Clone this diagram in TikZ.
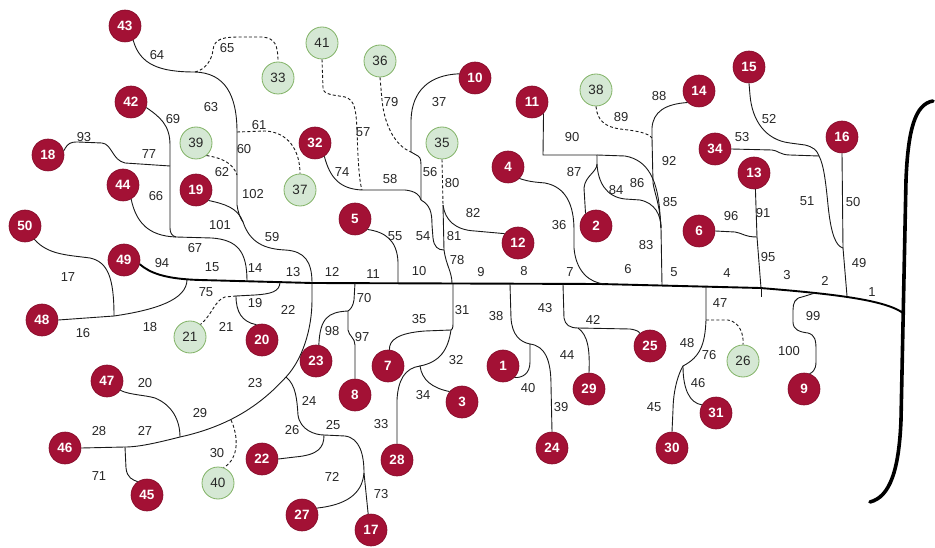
\documentclass[tikz,border=0pt]{standalone}
\usepackage{fontspec}
\setmainfont{Liberation Sans}
\definecolor{crim}{RGB}{163,17,53}
\definecolor{crimd}{RGB}{130,10,40}
\definecolor{gfill}{RGB}{213,232,212}
\definecolor{gdraw}{RGB}{130,179,102}
\definecolor{labc}{RGB}{40,40,40}
\begin{document}
\begin{tikzpicture}[x=1pt,y=-1pt,
  rn/.style={circle,fill=crim,draw=crimd,line width=0.6pt,minimum size=32pt,inner sep=0pt,text=white,font=\fontsize{13.5}{15}\selectfont\bfseries},
  gn/.style={circle,fill=gfill,draw=gdraw,line width=0.8pt,minimum size=32pt,inner sep=0pt,text=black!85,font=\fontsize{13.5}{15}\selectfont},
  lab/.style={inner sep=0pt,text=labc,font=\fontsize{13}{15}\selectfont},
  ln/.style={draw=black!90,line width=0.9pt},
  dl/.style={ln,dash pattern=on 3pt off 2.2pt},
  trunk/.style={draw=black,line width=1.9pt},
  brk/.style={draw=black,line width=3.6pt,line cap=round}]
\fill[white] (0,0) rectangle (935,548);
\useasboundingbox (0,0) rectangle (935,548);

% nodes
\foreach \n/\x/\y in {43/125/26, 42/131/102, 18/48/155, 44/123/185, 50/25/226, 49/124/260, 48/42/320, 19/196/190, 32/315/143, 10/475/78, 5/355/219, 4/508/167, 12/518/243, 11/532/102, 2/596/226, 14/699/91, 15/749/67, 34/715/149, 16/842/137, 13/754/173, 6/699/231, 20/262/340, 47/107/381, 46/65/448, 45/147/495, 22/262/459, 23/316/361, 8/355/395, 7/388/366, 3/462/402, 28/397/460, 27/302/515, 17/371/530, 1/503/366, 24/552/448, 29/589/389, 25/650/346, 30/672/448, 31/716/413, 9/804/389}
  \node[rn] (n\n) at (\x,\y) {\n};
\foreach \n/\x/\y in {39/196/143, 33/278/78, 41/322/43, 36/380/61, 37/300/190, 35/442/143, 38/596/90, 21/190/337, 40/218/483, 26/743/361}
  \node[gn] (n\n) at (\x,\y) {\n};

% trunk junctions
\coordinate (tA) at (247,281);
\coordinate (tB) at (312,283);
\coordinate (tC) at (398,283);
\coordinate (tD) at (452,283.5);
\coordinate (tE) at (605,284);
\coordinate (tF) at (662,285);
\coordinate (tG) at (761,288);
\coordinate (tH) at (847,296);
\coordinate (tb1) at (187,279.5);
\coordinate (tb2) at (280,282);
\coordinate (tb3) at (355,283);
\coordinate (tb4) at (453,284);
\coordinate (tb5) at (510,284);
\coordinate (tb6) at (563,284);
\coordinate (tb7) at (706,286);
\coordinate (tb8) at (815,293);

\draw[trunk] (n49.-15) .. controls (150,273) and (165,279) .. (200,280) -- (312,283) -- (600,284) -- (760,288) .. controls (835,294) and (885,300) .. (903,313);
\draw[brk] (933,101) .. controls (915,104) and (908,130) .. (906,180) -- (901,420) .. controls (899,470) and (890,497) .. (870,502);

% left lower
\coordinate (j48) at (114,316);
\draw[ln] (n50.-55) .. controls (48,255) and (68,255) .. (90,258) .. controls (108,262) and (114,278) .. (j48);
\draw[ln] (n48.east) -- (j48) .. controls (155,310) and (187,300) .. (tb1);

% 18 / 42 / 44
\coordinate (j77) at (170,166);
\coordinate (j67) at (176,237);
\draw[ln] (n18.15) .. controls (68,143) and (70,142) .. (78,142) -- (102,143) .. controls (112,144) and (112,160) .. (125,163) -- (j77);
\draw[ln] (n42.-20) .. controls (160,117) and (170,125) .. (170,145) -- (170,228) .. controls (170,233) and (172,236) .. (j67);
\draw[ln] (n44.-60) .. controls (136,222) and (148,236) .. (j67);
\draw[ln] (j67) -- (212,238) .. controls (238,240) and (247,252) .. (tA);

% 43 branch
\coordinate (j64) at (195,72);
\coordinate (j61) at (237,132);
\coordinate (j62) at (237,175);
\coordinate (j101) at (243,222);
\draw[ln] (n43.-60) .. controls (140,65) and (160,72) .. (j64);
\draw[ln] (j64) .. controls (225,73) and (237,95) .. (j61) -- (j62) -- (237,205) .. controls (238,212) and (240,218) .. (j101) .. controls (250,243) and (265,249) .. (285,250) .. controls (305,251) and (312,262) .. (tB);
\draw[dl] (j64) .. controls (205,70) and (212,60) .. (213,50) .. controls (214,38) and (225,37) .. (240,37) -- (262,37) .. controls (275,38) and (278,45) .. (n33.north);
\draw[dl] (j61) -- (265,131) .. controls (288,132) and (300,150) .. (n37.north);
\draw[dl] (n39.-50) .. controls (222,158) and (233,163) .. (j62);
\draw[ln] (n19.-40) .. controls (225,204) and (238,208) .. (j101);

% big lower branch
\coordinate (j24) at (286,377);
\coordinate (j30) at (231,420);
\coordinate (j20) at (180,437);
\coordinate (j45) at (125,447);
\draw[ln] (tB) -- (312,300) .. controls (312,330) and (302,360) .. (j24) .. controls (265,400) and (235,425) .. (j20) .. controls (160,442) and (140,447) .. (j45) -- (n46.east);
\draw[ln] (n47.-35) .. controls (130,395) and (145,395) .. (155,398) .. controls (172,405) and (180,420) .. (j20);
\draw[ln] (j45) -- (126,468) .. controls (127,478) and (133,480) .. (n45.125);
\draw[dl] (j30) .. controls (238,435) and (240,458) .. (n40.70);

\coordinate (j25) at (324,435);
\coordinate (j72) at (364,473);
\draw[ln] (j24) .. controls (296,385) and (297,400) .. (298,415) .. controls (300,430) and (315,435) .. (j25) -- (345,436) .. controls (360,438) and (364,455) .. (j72) -- (n17.100);
\draw[ln] (n22.east) -- (295,457) .. controls (318,455) and (324,448) .. (j25);
\draw[ln] (n27.25) .. controls (345,505) and (362,495) .. (j72);

% 75 / 19 / 21
\coordinate (j21) at (236,296);
\draw[ln] (tb2) .. controls (280,292) and (270,294) .. (255,295) -- (j21) .. controls (236,312) and (242,322) .. (n20.110);
\draw[dl] (j21) -- (225,297) .. controls (215,300) and (212,315) .. (n21.50);

% 70
\coordinate (j70) at (348,311);
\draw[ln] (tb3) -- (354,300) .. controls (353,306) and (351,309) .. (j70) .. controls (328,312) and (320,318) .. (n23.80);
\draw[ln] (j70) -- (348,330) .. controls (349,336) and (355,338) .. (355,345) -- (n8.north);

% 31
\coordinate (j31) at (451,330);
\coordinate (j34) at (420,366);
\draw[ln] (tb4) -- (453,324) .. controls (453,328) and (452,330) .. (j31) -- (425,331) .. controls (398,333) and (389,340) .. (n7.85);
\draw[ln] (j31) .. controls (448,350) and (440,362) .. (j34) .. controls (422,380) and (432,388) .. (n3.140);
\draw[ln] (j34) .. controls (405,368) and (398,380) .. (397,400) -- (n28.north);

% 38
\coordinate (j38) at (530,344);
\draw[ln] (tb5) -- (511,318) .. controls (512,335) and (520,342) .. (j38) -- (530,362) .. controls (530,374) and (522,378) .. (n1.-45);
\draw[ln] (j38) .. controls (545,346) and (551,360) .. (551,385) -- (n24.north);

% 43 below
\coordinate (j43) at (578,328);
\draw[ln] (tb6) -- (564,318) .. controls (565,325) and (570,328) .. (j43) -- (630,329) .. controls (637,330) and (640,332) .. (n25.130);
\draw[ln] (j43) .. controls (588,335) and (590,350) .. (n29.north);

% 47
\coordinate (j47) at (706,320);
\coordinate (j46) at (683,366);
\draw[ln] (tb7) -- (j47) .. controls (705,345) and (700,357) .. (j46) .. controls (675,380) and (673,400) .. (673,410) -- (n30.north);
\draw[ln] (j46) .. controls (683,390) and (690,403) .. (n31.150);
\draw[dl] (j47) -- (728,320) .. controls (740,322) and (744,335) .. (n26.north);

% 99
\draw[ln] (tb8) -- (802,297) .. controls (795,298) and (793,303) .. (793,310) -- (793,322) .. controls (793,330) and (800,332) .. (808,333) .. controls (815,335) and (816,340) .. (816,350) -- (816,362) .. controls (816,370) and (812,373) .. (n9.70);
\draw[ln] (tG) -- (761,297);

% 13 / 6
\coordinate (j95) at (757,237);
\draw[ln] (n13.-85) -- (j95) -- (tG);
\draw[ln] (n6.east) -- (735,232) .. controls (742,233) and (745,237) .. (j95);

% 15 / 34 / 16
\coordinate (j53) at (819,156);
\coordinate (j50) at (843,248);
\draw[ln] (n15.south) -- (750,95) .. controls (752,120) and (765,140) .. (790,143) -- (805,145) .. controls (813,147) and (817,150) .. (j53) .. controls (824,165) and (826,185) .. (828,205) .. controls (831,235) and (836,246) .. (j50) -- (tH);
\draw[ln] (n34.east) -- (772,150) .. controls (777,150) and (780,155) .. (790,155) -- (j53);
\draw[ln] (n16.south) -- (j50);

% 14 / 11 / 2
\coordinate (j89) at (652,138);
\coordinate (j83) at (661,228);
\coordinate (j90) at (597,155);
\coordinate (j84) at (597,164);
\draw[ln] (n14.225) .. controls (665,104) and (653,112) .. (652,128) -- (j89) -- (653,183) .. controls (655,195) and (660,205) .. (j83) -- (tF);
\draw[dl] (n38.south) .. controls (597,120) and (605,127) .. (620,129) .. controls (638,131) and (648,133) .. (j89);
\draw[ln] (n11.-45) -- (543,155) -- (j90) -- (j84) .. controls (597,172) and (585,176) .. (584,188) -- (n2.130);
\draw[ln] (j84) .. controls (598,182) and (606,197) .. (625,199) -- (640,200) .. controls (655,203) and (661,215) .. (j83);
\draw[ln] (j90) -- (625,156) .. controls (648,160) and (658,180) .. (660,215) -- (j83);

% 4 / 36
\draw[ln] (n4.-45) .. controls (530,182) and (535,182) .. (545,183) .. controls (566,187) and (574,205) .. (574,230) -- (574,248) .. controls (576,272) and (590,283) .. (tE);

% 5 / 55
\draw[ln] (n5.-40) .. controls (385,232) and (397,240) .. (398,262) -- (tC);

% 78 group
\coordinate (j80) at (443,205);
\coordinate (j54) at (444,250);
\coordinate (j56) at (421,200);
\coordinate (j57) at (362,190);
\coordinate (j79) at (411,152);
\draw[ln] (j80) -- (j54) .. controls (446,265) and (452,272) .. (tD);
\draw[ln] (j56) .. controls (430,205) and (432,212) .. (432,225) -- (433,238) .. controls (434,247) and (438,250) .. (j54);
\draw[ln] (n32.-55) .. controls (330,178) and (340,189) .. (j57) -- (405,190) .. controls (415,191) and (420,195) .. (j56);
\draw[dl] (n41.south) -- (323,88) .. controls (323,95) and (335,95) .. (345,97) .. controls (355,100) and (356,110) .. (357,130) .. controls (358,160) and (359,180) .. (j57);
\draw[ln] (n10.165) .. controls (430,75) and (412,90) .. (411,120) -- (j79) -- (418,156) .. controls (421,158) and (421,160) .. (421,170) -- (j56);
\draw[dl] (n36.south) -- (382,100) .. controls (385,130) and (398,147) .. (j79);
\draw[dl] (n35.south) -- (j80);
\draw[ln] (j80) .. controls (445,220) and (455,230) .. (475,231) -- (n12.145);

% edge labels
\foreach \x/\y/\t in {157/55/64, 227/48/65, 211/107/63, 173/119/69, 259/125/61, 244/149/60, 84/137/93, 149/154/77, 222/172/62, 156/196/66, 253/194/102, 220/225/101, 272/237/59, 195/248/67, 162/263/94, 212/267/15, 255/268/14, 293/272/13, 68/277/17, 206/292/75, 255/303/19, 288/310/22, 226/327/21, 150/327/18, 83/333/16, 145/383/20, 255/383/23, 200/413/29, 99/431/28, 145/431/27, 217/453/30, 99/476/71, 309/401/24, 292/430/26, 333/425/25, 332/477/72, 381/494/73, 363/132/57, 391/102/79, 439/102/37, 342/172/74, 390/179/58, 430/172/56, 452/183/80, 473/213/82, 395/236/55, 423/236/54, 454/236/81, 457/260/78, 419/271/10, 373/274/11, 332/272/12, 481/272/9, 524/271/8, 570/272/7, 628/269/6, 674/272/5, 559/225/36, 572/137/90, 574/172/87, 659/96/88, 621/117/89, 669/161/92, 637/183/86, 616/190/84, 670/202/85, 646/245/83, 769/119/52, 742/137/53, 807/201/51, 853/202/50, 731/216/96, 763/213/91, 768/257/95, 859/263/49, 727/273/4, 787/275/3, 825/281/2, 872/292/1, 720/303/47, 687/343/48, 709/355/76, 698/383/46, 654/407/45, 813/316/99, 789/351/100, 364/298/70, 332/331/98, 362/337/97, 419/319/35, 462/310/31, 496/316/38, 545/308/43, 593/320/42, 456/360/32, 567/355/44, 423/395/34, 528/388/40, 561/407/39, 381/424/33}
  \node[lab] (l\t) at (\x,\y) {\t};
\end{tikzpicture}
\end{document}
